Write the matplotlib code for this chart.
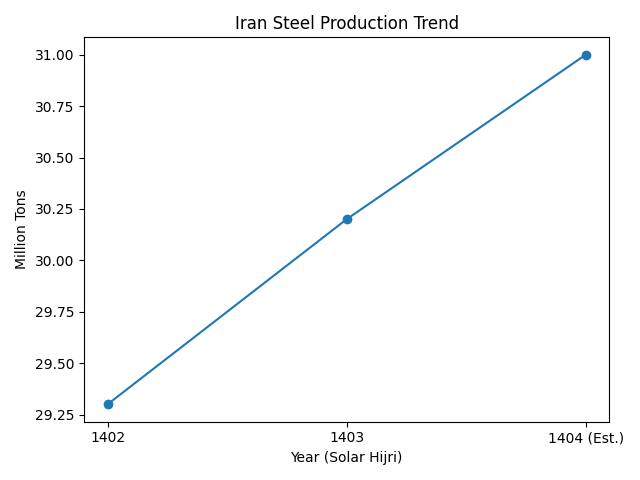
import matplotlib
matplotlib.use("Agg")
import matplotlib.pyplot as plt

# データ
years = ["1402", "1403", "1404 (Est.)"]
production = [29.3, 30.2, 31.0]

fig, ax = plt.subplots(figsize=(6.4, 4.8), dpi=100)
ax.plot(years, production, marker="o")

ax.set_title("Iran Steel Production Trend")
ax.set_xlabel("Year (Solar Hijri)")
ax.set_ylabel("Million Tons")

plt.tight_layout()
plt.savefig("out.png")
